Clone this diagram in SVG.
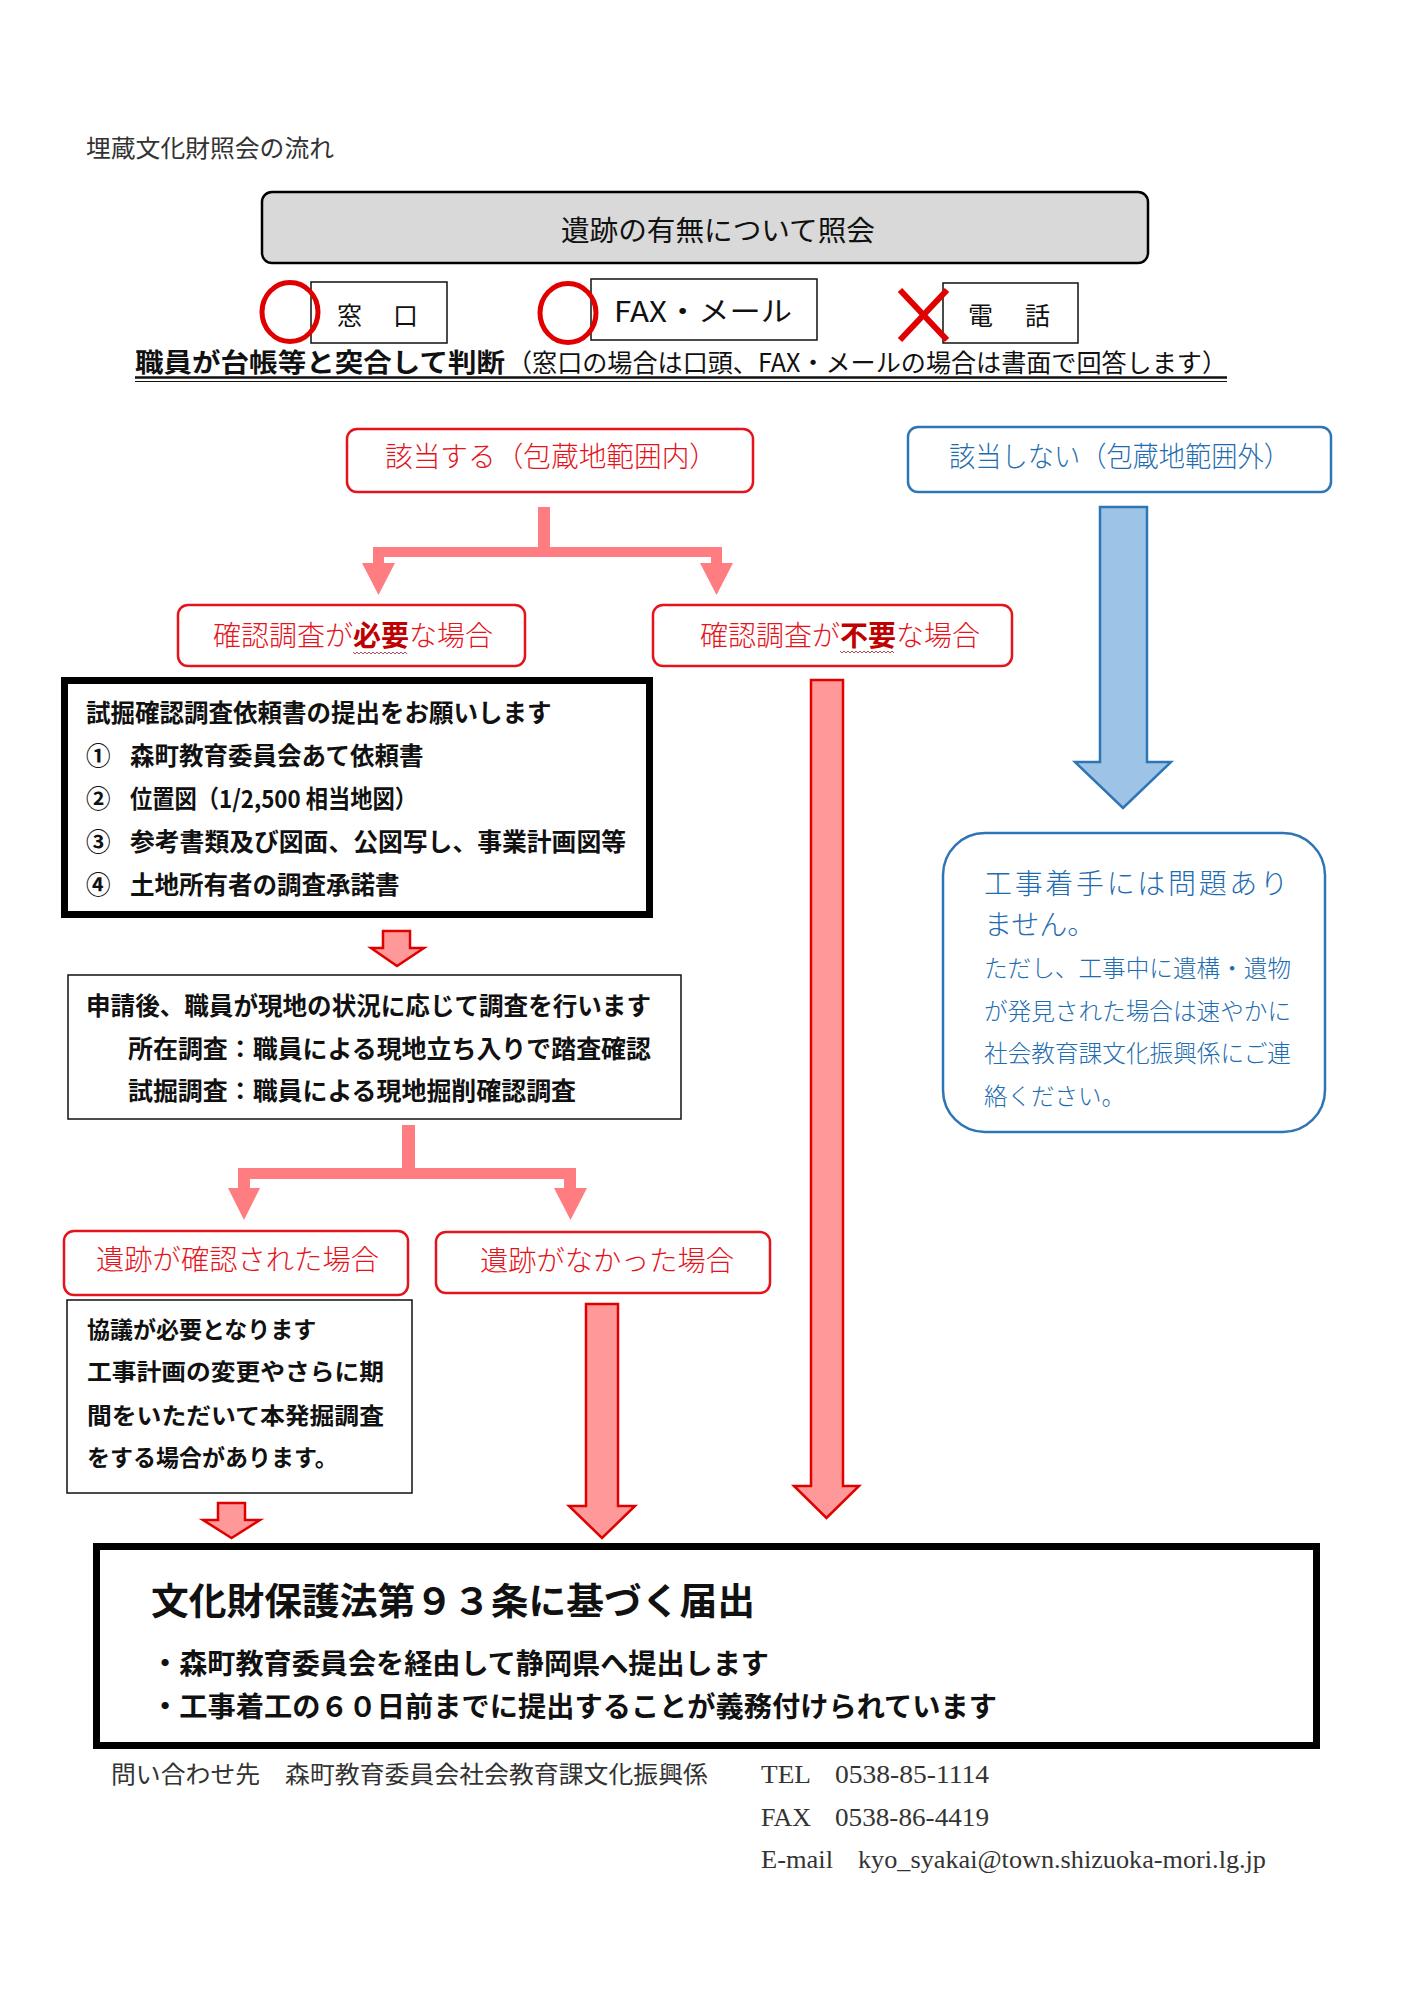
<svg xmlns="http://www.w3.org/2000/svg" width="1414" height="2000" viewBox="0 0 1414 2000">
<style>
text{font-family:"Noto Sans CJK JP","Noto Sans CJK SC",sans-serif;}
.serif{font-family:"Liberation Serif","Noto Sans CJK JP",serif;fill:#333;}
.blk{fill:#111;}
.b{font-weight:700;}
.red{fill:#e3141c;font-weight:300;}
.redb{fill:#c00000;font-weight:700;}
.blue{fill:#1f6db0;font-weight:300;}
.rbox{fill:#fff;stroke:#e3141c;stroke-width:2.5;}
.bbox{fill:#fff;stroke:#2e75b6;stroke-width:2.5;}
.thin{fill:#fff;stroke:#111;stroke-width:1.5;}
.thick{fill:#fff;stroke:#000;stroke-width:7;}
.conn{fill:#ff7c80;stroke:none;}
.arr{fill:#ff9999;stroke:#e00000;stroke-width:2.5;stroke-linejoin:miter;}
.barr{fill:#9dc3e6;stroke:#2e75b6;stroke-width:2.5;}
.ok{fill:none;stroke:#e00000;stroke-width:5;}
.wavy{fill:none;stroke:#b05050;stroke-width:1;}
</style>
<rect width="1414" height="2000" fill="#fff"/>

<g id="title">
<text class="serif" x="86" y="157" font-size="24" textLength="248" lengthAdjust="spacingAndGlyphs">埋蔵文化財照会の流れ</text>
</g>

<g id="inquiry">
<rect x="262" y="192" width="886" height="71" rx="10" fill="#d9d9d9" stroke="#000" stroke-width="2.5"/>
<text class="blk" x="561" y="241" font-size="28" textLength="314" lengthAdjust="spacingAndGlyphs">遺跡の有無について照会</text>
</g>

<g id="window">
<rect class="thin" x="311" y="282" width="136" height="61"/>
<text class="blk" x="337" y="325" font-size="25" textLength="81" lengthAdjust="spacing">窓　口</text>
<ellipse class="ok" cx="290" cy="312" rx="28" ry="29.5"/>
</g>

<g id="faxmail">
<rect class="thin" x="591" y="279" width="226" height="61"/>
<text class="blk" x="614" y="322" font-size="28" textLength="178" lengthAdjust="spacingAndGlyphs">FAX・メール</text>
<ellipse class="ok" cx="568" cy="313" rx="28" ry="29.5"/>
</g>

<g id="phone">
<rect class="thin" x="943" y="283" width="135" height="60"/>
<text class="blk" x="968" y="325" font-size="25" textLength="82" lengthAdjust="spacing">電　話</text>
<line x1="900" y1="290" x2="947" y2="340" stroke="#e00000" stroke-width="6"/>
<line x1="947" y1="290" x2="900" y2="340" stroke="#e00000" stroke-width="6"/>
</g>

<g id="judgement">
<text class="blk b" x="135" y="372" font-size="26" textLength="370" lengthAdjust="spacingAndGlyphs">職員が台帳等と突合して判断</text>
<text class="blk" x="507" y="372" font-size="25" textLength="720" lengthAdjust="spacingAndGlyphs">（窓口の場合は口頭、FAX・メールの場合は書面で回答します）</text>
<line x1="135" y1="377.5" x2="1227" y2="377.5" stroke="#111" stroke-width="2.5"/>
<line x1="135" y1="381.5" x2="1227" y2="381.5" stroke="#111" stroke-width="1.2"/>
</g>

<g id="applicable">
<rect class="rbox" x="347" y="429" width="406" height="63" rx="10"/>
<text class="red" x="385" y="467" font-size="28" textLength="332" lengthAdjust="spacingAndGlyphs">該当する（包蔵地範囲内）</text>
</g>

<g id="not-applicable">
<rect class="bbox" x="908" y="427" width="423" height="65" rx="10"/>
<text class="blue" x="949" y="467" font-size="28" textLength="341" lengthAdjust="spacingAndGlyphs">該当しない（包蔵地範囲外）</text>
</g>

<g id="check-needed">
<rect class="rbox" x="178" y="605" width="347" height="61" rx="10"/>
<text x="213" y="646" font-size="28"><tspan class="red">確認調査が</tspan><tspan class="redb">必要</tspan><tspan class="red">な場合</tspan></text>
<path class="wavy" d="M353,652 l2,2 l2,-2 l2,2 l2,-2 l2,2 l2,-2 l2,2 l2,-2 l2,2 l2,-2 l2,2 l2,-2 l2,2 l2,-2 l2,2 l2,-2 l2,2 l2,-2 l2,2 l2,-2 l2,2 l2,-2 l2,2 l2,-2 l2,2 l2,-2 l2,2"/>
</g>

<g id="check-unneeded">
<rect class="rbox" x="653" y="605" width="359" height="61" rx="10"/>
<text x="700" y="646" font-size="28"><tspan class="red">確認調査が</tspan><tspan class="redb">不要</tspan><tspan class="red">な場合</tspan></text>
<path class="wavy" d="M840,651 l2,2 l2,-2 l2,2 l2,-2 l2,2 l2,-2 l2,2 l2,-2 l2,2 l2,-2 l2,2 l2,-2 l2,2 l2,-2 l2,2 l2,-2 l2,2 l2,-2 l2,2 l2,-2 l2,2 l2,-2 l2,2 l2,-2 l2,2 l2,-2 l2,2"/>
</g>

<g id="request">
<rect class="thick" x="64.5" y="680.5" width="585" height="234"/>
<g class="blk b" font-size="24.5">
<text x="86" y="722">試掘確認調査依頼書の提出をお願いします</text>
<text x="86" y="765">①</text><text x="130" y="765">森町教育委員会あて依頼書</text>
<text x="86" y="808">②</text><text x="130" y="808" textLength="287" lengthAdjust="spacingAndGlyphs">位置図（1/2,500 相当地図）</text>
<text x="86" y="851">③</text><text x="130" y="851" textLength="496" lengthAdjust="spacingAndGlyphs">参考書類及び図面、公図写し、事業計画図等</text>
<text x="86" y="894">④</text><text x="130" y="894">土地所有者の調査承諾書</text>
</g>
</g>

<g id="survey">
<rect class="thin" x="68" y="975" width="613" height="144"/>
<g class="blk b" font-size="24.5">
<text x="86" y="1015" textLength="565" lengthAdjust="spacingAndGlyphs">申請後、職員が現地の状況に応じて調査を行います</text>
<text x="128" y="1058" textLength="523" lengthAdjust="spacingAndGlyphs">所在調査：職員による現地立ち入りで踏査確認</text>
<text x="128" y="1100" textLength="448" lengthAdjust="spacingAndGlyphs">試掘調査：職員による現地掘削確認調査</text>
</g>
</g>

<g id="found">
<rect class="rbox" x="64" y="1231" width="344" height="64" rx="10"/>
<text class="red" x="96" y="1270" font-size="28" textLength="283" lengthAdjust="spacingAndGlyphs">遺跡が確認された場合</text>
</g>

<g id="not-found">
<rect class="rbox" x="436" y="1232" width="334" height="61" rx="10"/>
<text class="red" x="480" y="1271" font-size="28" textLength="254" lengthAdjust="spacingAndGlyphs">遺跡がなかった場合</text>
</g>

<g id="consult">
<rect class="thin" x="67" y="1300" width="345" height="193"/>
<g class="blk b" font-size="23">
<text x="87" y="1338">協議が必要となります</text>
<text x="87" y="1380" textLength="297" lengthAdjust="spacingAndGlyphs">工事計画の変更やさらに期</text>
<text x="87" y="1424" textLength="297" lengthAdjust="spacingAndGlyphs">間をいただいて本発掘調査</text>
<text x="87" y="1466">をする場合があります。</text>
</g>
</g>

<g id="no-problem">
<rect class="bbox" x="943" y="833" width="382" height="299" rx="42"/>
<text class="blue" x="984" y="894" font-size="28" textLength="304" lengthAdjust="spacing">工事着手には問題あり</text>
<text class="blue" x="984" y="935" font-size="28">ません。</text>
<g class="blue" font-size="23.5">
<text x="984" y="977" textLength="307" lengthAdjust="spacingAndGlyphs">ただし、工事中に遺構・遺物</text>
<text x="984" y="1020" textLength="307" lengthAdjust="spacingAndGlyphs">が発見された場合は速やかに</text>
<text x="984" y="1062" textLength="307" lengthAdjust="spacingAndGlyphs">社会教育課文化振興係にご連</text>
<text x="984" y="1105">絡ください。</text>
</g>
</g>

<g id="notification">
<rect class="thick" x="96.5" y="1546.5" width="1220" height="199"/>
<text class="blk b" x="151" y="1615" font-size="37" textLength="604" lengthAdjust="spacingAndGlyphs">文化財保護法第９３条に基づく届出</text>
<text class="blk b" x="151" y="1674" font-size="28" textLength="618" lengthAdjust="spacingAndGlyphs">・森町教育委員会を経由して静岡県へ提出します</text>
<text class="blk b" x="151" y="1717" font-size="28" textLength="846" lengthAdjust="spacingAndGlyphs">・工事着工の６０日前までに提出することが義務付けられています</text>
</g>

<g id="contact">
<text class="serif" x="111" y="1783" font-size="24" textLength="597" lengthAdjust="spacingAndGlyphs">問い合わせ先　森町教育委員会社会教育課文化振興係</text>
<text class="serif" x="761" y="1783" font-size="25" textLength="50" lengthAdjust="spacingAndGlyphs">TEL</text>
<text class="serif" x="835" y="1783" font-size="25" textLength="154" lengthAdjust="spacingAndGlyphs">0538-85-1114</text>
<text class="serif" x="761" y="1826" font-size="25" textLength="50" lengthAdjust="spacingAndGlyphs">FAX</text>
<text class="serif" x="835" y="1826" font-size="25" textLength="154" lengthAdjust="spacingAndGlyphs">0538-86-4419</text>
<text class="serif" x="761" y="1868" font-size="25" textLength="72" lengthAdjust="spacingAndGlyphs">E-mail</text>
<text class="serif" x="858" y="1868" font-size="25" textLength="408" lengthAdjust="spacingAndGlyphs">kyo_syakai@town.shizuoka-mori.lg.jp</text>
</g>

<g id="connectors">
<path class="conn" d="M538,507 H550 V547 H722 V563 H733 L716.5,595 L700,563 H711 V557 H384 V563 H395 L378.5,595 L362,563 H373 V547 H538 Z"/>
<path class="barr" d="M1100,507 H1147 V762 H1171 L1123,808 L1075,762 H1100 Z"/>
<path class="arr" d="M811,680 H843 V1486 H859 L826.5,1518 L794,1486 H811 Z"/>
<path class="arr" d="M383,931 H410 V948 H424 L397,966 L371,948 H383 Z"/>
<path class="conn" d="M402,1125 H415 V1168 H576 V1188 H587 L570.5,1220 L554,1188 H564 V1179 H250 V1188 H260 L244,1220 L228,1188 H238 V1168 H402 Z"/>
<path class="arr" d="M218,1503 H245 V1520 H260 L231.5,1538 L203,1520 H218 Z"/>
<path class="arr" d="M586,1304 H618 V1506 H635 L602,1538 L569,1506 H586 Z"/>
</g>
</svg>
